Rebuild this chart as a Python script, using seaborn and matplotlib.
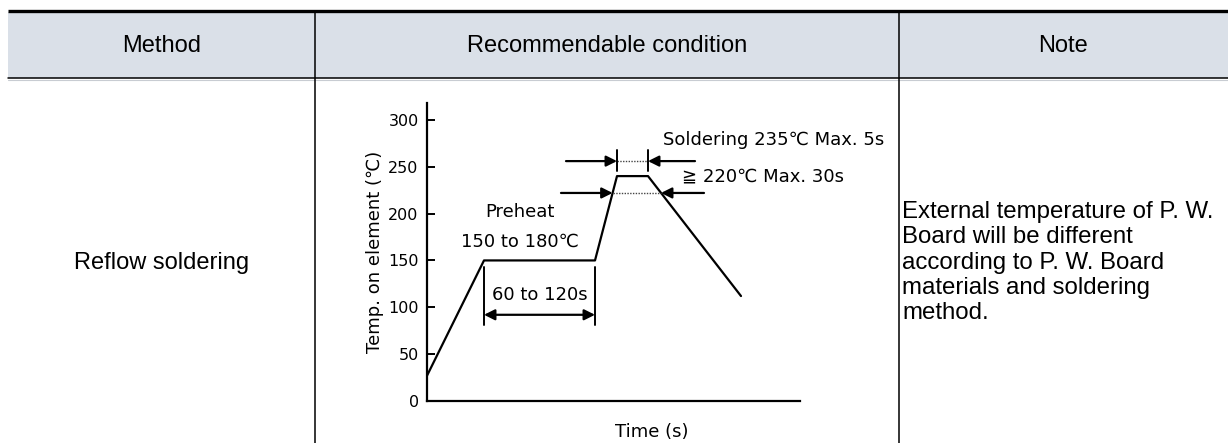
import matplotlib.pyplot as plt
from matplotlib.patches import Rectangle
import pandas as pd
import seaborn as sns

# table text
headers = ['Method', 'Recommendable condition', 'Note']
method_name = 'Reflow soldering'
note_lines = [
    'External temperature of P. W.',
    'Board will be different',
    'according to P. W. Board',
    'materials and soldering',
    'method.',
]

# reflow profile (time axis has no scale)
time_s = [0, 57, 168, 190, 221, 314]
temp_c = [27, 150, 150, 240, 240, 112]
y_ticks = [0, 50, 100, 150, 200, 250, 300]

# annotation values
preheat_window = [57, 168]
peak_window = [190, 221]
above_220_window = [185.6, 234]
peak_marker_temp = 256
above_220_temp = 222
preheat_arrow_temp = 92

W, H = 1228, 443
col_edges = [8, 315, 899, 1228]
header_bottom = 78

sns.set_style('ticks')
plt.rcParams['font.family'] = ['DejaVu Sans', 'Noto Sans CJK JP']
plt.rcParams['text.color'] = 'black'
plt.rcParams['axes.labelcolor'] = 'black'
table_font = ['Liberation Sans', 'DejaVu Sans']

fig = plt.figure(figsize=(W / 100, H / 100), dpi=100)

# table frame drawn in pixel coordinates
bg = fig.add_axes([0, 0, 1, 1])
bg.set_xlim(0, W)
bg.set_ylim(H, 0)
bg.axis('off')
bg.add_patch(Rectangle((col_edges[0], 12), W - col_edges[0], header_bottom - 12,
                       color='#dae0e8', lw=0))
bg.plot([col_edges[0], W], [10.5, 10.5], color='black', lw=2.4, solid_capstyle='butt')
bg.plot([col_edges[0], W], [header_bottom, header_bottom], color='black', lw=1.1)
bg.plot([col_edges[0], W], [header_bottom + 1.5, header_bottom + 1.5], color='#c8ccd2', lw=0.8)
for x in col_edges[1:3]:
    bg.plot([x, x], [12, H], color='black', lw=1.1)

for i, label in enumerate(headers):
    cx = (col_edges[i] + col_edges[i + 1]) / 2
    bg.text(cx, 46, label, ha='center', va='center', fontsize=17, family=table_font)

body_mid = (header_bottom + H) / 2 + 2
bg.text((col_edges[0] + col_edges[1]) / 2, body_mid, method_name,
        ha='center', va='center', fontsize=17, family=table_font)
bg.text(902, body_mid, '\n'.join(note_lines), ha='left', va='center',
        fontsize=17.3, family=table_font, linespacing=1.2)

# profile chart
ax = fig.add_axes([427 / W, (H - 401) / H, 373 / W, 298 / H])
ax.patch.set_alpha(0)
df = pd.DataFrame({'time': time_s, 'temp': temp_c})
sns.lineplot(data=df, x='time', y='temp', ax=ax, color='black', lw=1.6, sort=False)
ax.set_xlim(0, 373)
ax.set_ylim(0, 318)
sns.despine(ax=ax)
for side in ['left', 'bottom']:
    ax.spines[side].set_linewidth(1.6)
    ax.spines[side].set_color('black')
ax.set_xticks([])
ax.set_yticks(y_ticks)
ax.tick_params(axis='y', direction='in', length=6, width=1.4, labelsize=11.5, pad=6,
               colors='black')
ax.set_xlabel('Time (s)', fontsize=13)
ax.xaxis.set_label_coords(0.603, -0.075)
ax.set_ylabel('Temp. on element (℃)', fontsize=13)
ax.yaxis.set_label_coords(-0.115, 0.5)

arrow = dict(arrowstyle='-|>', color='black', lw=1.6, mutation_scale=16,
             shrinkA=0, shrinkB=0)
both = dict(arrowstyle='<|-|>', color='black', lw=1.6, mutation_scale=16,
            shrinkA=0, shrinkB=0)

# peak (235 C, 5 s) window
ax.plot(peak_window, [peak_marker_temp] * 2, color='#444444', ls=(0, (1, 1)), lw=1)
for x in peak_window:
    ax.plot([x, x], [245, 268], color='black', lw=1.4)
ax.annotate('', xy=(peak_window[0], peak_marker_temp), xytext=(139, peak_marker_temp),
            arrowprops=arrow)
ax.annotate('', xy=(peak_window[1], peak_marker_temp), xytext=(268, peak_marker_temp),
            arrowprops=arrow)

# above 220 C window
ax.plot(above_220_window, [above_220_temp] * 2, color='#444444', ls=(0, (1, 1)), lw=1)
ax.annotate('', xy=(above_220_window[0], above_220_temp), xytext=(134, above_220_temp),
            arrowprops=arrow)
ax.annotate('', xy=(above_220_window[1], above_220_temp), xytext=(277, above_220_temp),
            arrowprops=arrow)

# preheat window
for x in preheat_window:
    ax.plot([x, x], [81, 143], color='black', lw=1.4)
ax.annotate('', xy=(preheat_window[1], preheat_arrow_temp),
            xytext=(preheat_window[0], preheat_arrow_temp), arrowprops=both)

ax.text(236, 279, 'Soldering 235℃ Max. 5s', fontsize=13, va='center', ha='left')
ax.text(255, 240, '≧ 220℃ Max. 30s', fontsize=13, va='center', ha='left')
ax.text(93, 202, 'Preheat', fontsize=13, va='center', ha='center')
ax.text(93, 170, '150 to 180℃', fontsize=13, va='center', ha='center')
ax.text(113, 113, '60 to 120s', fontsize=13, va='center', ha='center')

fig.savefig('out.png', dpi=100)
